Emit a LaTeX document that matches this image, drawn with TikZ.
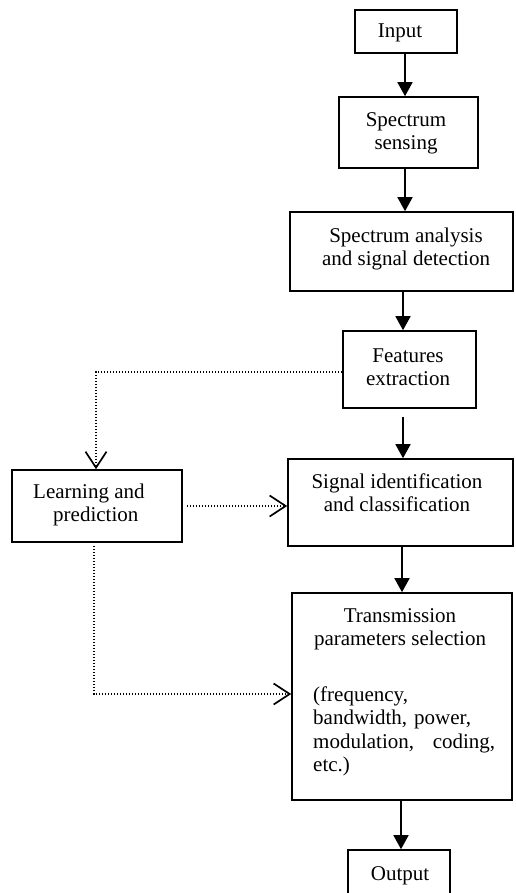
\documentclass[tikz,border=0pt]{standalone}
\usepackage{fontspec}
\setmainfont{Liberation Serif}
\usetikzlibrary{arrows.meta}
\begin{document}
\begin{tikzpicture}[x=1pt,y=-1pt,
  box/.style n args={2}{draw, line width=1.6pt, inner sep=0pt, minimum width=#1, minimum height=#2},
  txt/.style={font=\fontsize{21pt}{23.5pt}\selectfont, inner sep=0pt, align=center, anchor=base},
  flow/.style={line width=1.6pt, -{Triangle[width=15pt,length=14pt]}},
  dotline/.style={line width=1.3pt, dash pattern=on 1.3pt off 1.7pt, -{Straight Barb[length=16pt,width=21pt,line width=1.7pt]}}]
\useasboundingbox (0,0) rectangle (515,893);
% boxes (multi-line text nodes are anchored at the baseline of their last line)
\node[box={102pt}{43pt}] (in) at (406,31.5) {};
\node[txt] (in-t) at (400,38) {Input};
\node[box={139pt}{71pt}] (sen) at (408.5,132.5) {};
\node[txt] (sen-t) at (406,150) {Spectrum\\sensing};
\node[box={223pt}{79pt}] (ana) at (401.5,251.5) {};
\node[txt] (ana-t) at (406,265.5) {Spectrum analysis\\and signal detection};
\node[box={133pt}{77pt}] (fea) at (409.5,369.5) {};
\node[txt] (fea-t) at (408,385.5) {Features\\extraction};
\node[box={170pt}{72pt}] (lea) at (97,506) {};
\node[txt, align=left, anchor=base west] (lea-t) at (33,521.5) {Learning and\\\hspace*{20pt}prediction};
\node[box={225pt}{87pt}] (sig) at (400.5,502.5) {};
\node[txt] (sig-t) at (397,511.5) {Signal identification\\and classification};
\node[box={220pt}{207pt}] (tra) at (402,696.5) {};
\node[txt] (tra-t) at (400,645.5) {Transmission\\parameters selection};
\node[txt, align=left, anchor=base west, text width=182pt] (par-t) at (313,701) {(frequency,\\bandwidth, power,\\modulation,\hfill coding,\\etc.)};
\node[box={102pt}{46pt}] (out) at (399,873) {};
\node[txt] (out-t) at (400,880) {Output};
% solid flow
\draw[flow] ([xshift=-1pt]in.south) -- ([xshift=-1pt]in.south |- sen.north);
\draw[flow] ([xshift=-3.5pt]sen.south) -- ([xshift=-3.5pt]sen.south |- ana.north);
\draw[flow] ([xshift=1.5pt]ana.south) -- ([xshift=1.5pt]ana.south |- fea.north);
\draw[flow, shorten <=8pt] ([xshift=-6.5pt]fea.south) -- ([xshift=-6.5pt]fea.south |- sig.north);
\draw[flow] ([xshift=1.5pt]sig.south) -- ([xshift=1.5pt]sig.south |- tra.north);
\draw[flow] ([xshift=-1pt]tra.south) -- ([xshift=-1pt]tra.south |- out.north);
% dotted feedback
\draw[dotline] ([yshift=-2.5pt]fea.west) -| ([xshift=-1pt]lea.north);
\draw[dotline] ([xshift=4pt]lea.east) -- (lea.east -| sig.west);
\draw[dotline] ([xshift=-3pt,yshift=-3pt]lea.south) |- ([yshift=2.5pt]tra.west);
\end{tikzpicture}
\end{document}
